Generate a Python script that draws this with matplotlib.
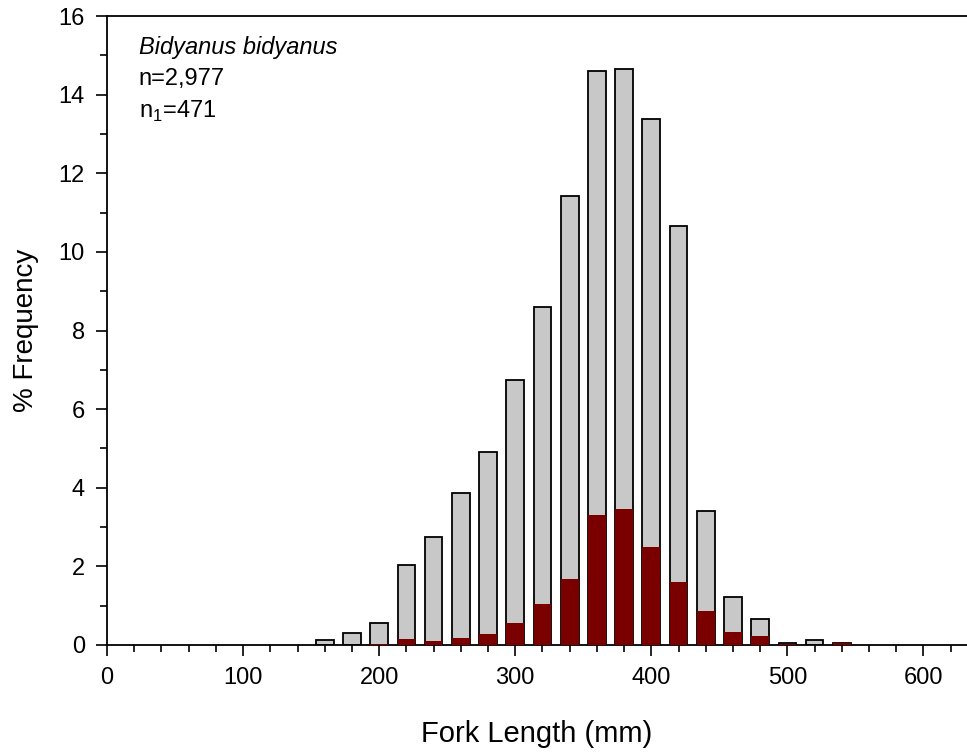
import matplotlib
matplotlib.use('Agg')
import matplotlib.pyplot as plt
from matplotlib.ticker import MultipleLocator

plt.rcParams['font.family'] = ['Liberation Sans', 'DejaVu Sans']

# length classes (mm), total % frequency and % frequency of subset n1
lengths = [160, 180, 200, 220, 240, 260, 280, 300, 320, 340, 360, 380,
           400, 420, 440, 460, 480, 500, 520, 540]
total_pct = [0.12, 0.3, 0.55, 2.03, 2.75, 3.87, 4.9, 6.75, 8.6, 11.43, 14.6, 14.65,
             13.37, 10.65, 3.42, 1.22, 0.65, 0.04, 0.13, 0.04]
subset_pct = [0.0, 0.0, 0.03, 0.15, 0.1, 0.18, 0.27, 0.57, 1.04, 1.67, 3.3, 3.46,
              2.48, 1.59, 0.87, 0.33, 0.24, 0.02, 0.0, 0.05]

fig = plt.figure(figsize=(9.67, 7.52), dpi=100)
ax = fig.add_axes([0.1107, 0.1423, 0.8893, 0.8364])

ax.bar(lengths, total_pct, width=13, color='#c8c8c8', edgecolor='black', linewidth=1.3, zorder=2)
ax.bar(lengths, subset_pct, width=13, color='#7a0000', edgecolor='none', zorder=3)

ax.set_xlim(0, 632)
ax.set_ylim(0, 16)
ax.xaxis.set_major_locator(MultipleLocator(100))
ax.xaxis.set_minor_locator(MultipleLocator(20))
ax.yaxis.set_major_locator(MultipleLocator(2))
ax.yaxis.set_minor_locator(MultipleLocator(1))
ax.tick_params(which='major', direction='out', length=8, width=1.2, labelsize=17, pad=8)
ax.tick_params(which='minor', direction='out', length=5, width=1.2)
ax.tick_params(axis='x', which='both', top=False)

ax.spines['right'].set_visible(False)
for s in ['left', 'bottom', 'top']:
    ax.spines[s].set_linewidth(1.3)

ax.set_xlabel('Fork Length (mm)', fontsize=21, labelpad=22)
ax.set_ylabel('% Frequency', fontsize=20, labelpad=14)

ax.text(0.037, 0.968, 'Bidyanus bidyanus', transform=ax.transAxes, fontsize=17,
        style='italic', va='top')
ax.text(0.037, 0.918, 'n=2,977', transform=ax.transAxes, fontsize=17, va='top')
ax.text(0.037, 0.868, r'n$_\mathregular{1}$=471', transform=ax.transAxes, fontsize=17, va='top')

fig.savefig('out.png', dpi=100)
